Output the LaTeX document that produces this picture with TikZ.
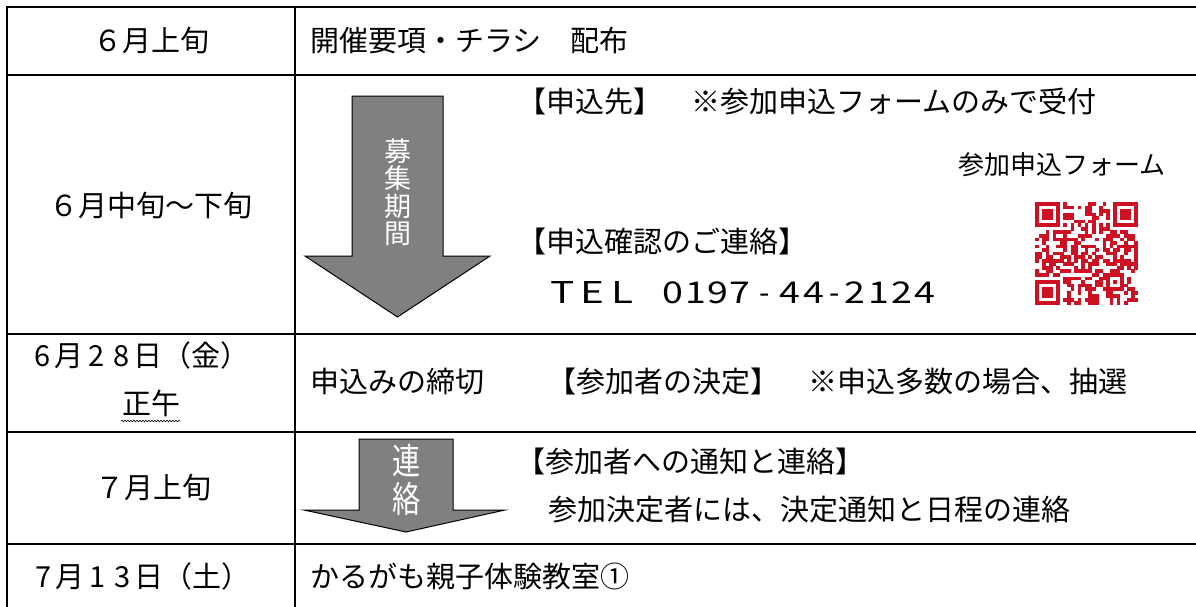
\documentclass[tikz,border=0pt]{standalone}
\usepackage{fontspec}
\setmainfont{Noto Sans CJK JP}
\usetikzlibrary{decorations.pathmorphing}
\definecolor{qrred}{RGB}{205,17,35}
\definecolor{arrowgray}{RGB}{128,128,128}
\newcommand{\hdg}[1]{\makebox[25pt]{#1}}
\newcommand{\tdg}[2][22.3pt]{\makebox[#1]{\scalebox{1.25}[1]{#2}}}
\newcommand{\tdash}[1]{\makebox[#1]{-}}
\newcommand{\tlt}[1]{\makebox[30pt]{\scalebox{1.35}[1]{#1}}}
\begin{document}
\begin{tikzpicture}[x=1pt,y=-1pt,
  tbl/.style={line width=2.2pt},
  txt/.style={inner sep=0pt, font=\fontsize{29}{34}\selectfont, text height=25pt, text depth=4pt},
  lft/.style={txt, anchor=west},
  blockarrow/.style={fill=arrowgray, draw=black, line width=1pt, line join=miter},
  arrowtxt/.style={inner sep=0pt, text=white}]
\useasboundingbox (0,0) rectangle (1196,606);
\fill[white] (0,0) rectangle (1196,606);

% table rules
\foreach \yy in {7,75,334,432,544}{
  \draw[tbl] (6,\yy) -- (1197,\yy);
}
\draw[tbl] (7,6) -- (7,607);
\draw[tbl] (295,6) -- (295,607);

% first column
\node[txt] (d1) at (151,41) {６月上旬};
\node[txt] (d2) at (151,206) {６月中旬～下旬};
\node[txt] (d3) at (140,356) {\hdg{6}月\hdg{2}\hdg{8}日（金）};
\node[txt] (d3b) at (151,404) {正午};
\coordinate (ulA) at (121,421);
\coordinate (ulB) at (180,421);
\draw[decorate, decoration={snake, amplitude=0.8pt, segment length=3pt}, line width=0.6pt] (ulA) -- (ulB);
\node[txt] (d4) at (153,488) {７月上旬};
\node[txt] (d5) at (141,577) {\hdg{7}月\hdg{1}\hdg{3}日（土）};

% row 1
\node[lft] (r1a) at (310,41) {開催要項・チラシ　配布};

% row 2
\draw[blockarrow] (352,96) -- (443,96) -- (443,256) -- (490,256) -- (397.5,317) -- (305,256) -- (352,256) -- cycle;
\node[arrowtxt, align=center, font=\fontsize{27}{27.5}\selectfont] (lbl1) at (398,192) {募\\集\\期\\間};
\node[lft] (r2a) at (517,102) {【申込先】　※参加申込フォームのみで受付};
\node[txt, font=\fontsize{26}{30}\selectfont] (r2b) at (1062,164) {参加申込フォーム};
\node[lft] (r2c) at (517,242) {【申込確認のご連絡】};
\node[lft, font=\fontsize{30}{34}\selectfont] (r2d) at (547,293) {\tlt{T}\tlt{E}\tlt{L}\hspace{25pt}\tdg{0}\tdg{1}\tdg{9}\tdg{7}\tdash{26pt}\tdg[24pt]{4}\tdg[24pt]{4}\tdash{18.2pt}\tdg[23.3pt]{2}\tdg[23.3pt]{1}\tdg[23.3pt]{2}\tdg[23.3pt]{4}};

% QR code
\pgfmathsetseed{11}
\foreach \i in {0,...,28}{
  \foreach \j in {0,...,28}{
    \pgfmathtruncatemacro\qs{((\i<8)&&(\j<8))||((\i>20)&&(\j<8))||((\i<8)&&(\j>20))||((\i>19)&&(\i<25)&&(\j>19)&&(\j<25))}
    \ifnum\qs=0
      \pgfmathtruncatemacro\qt{(\i==6)||(\j==6)}
      \ifnum\qt=1
        \pgfmathtruncatemacro\qv{mod(\i+\j,2)==0}
      \else
        \pgfmathtruncatemacro\qv{rnd<0.5}
      \fi
      \ifnum\qv=1
        \fill[qrred] ({1035+\i*3.552},{202+\j*3.552}) rectangle +(3.7,3.7);
      \fi
    \fi
  }
}
\foreach \fx/\fy in {0/0,22/0,0/22}{
  \fill[qrred] ({1035+\fx*3.552},{202+\fy*3.552}) rectangle +(24.86,24.86);
  \fill[white] ({1035+(\fx+1)*3.552},{202+(\fy+1)*3.552}) rectangle +(17.76,17.76);
  \fill[qrred] ({1035+(\fx+2)*3.552},{202+(\fy+2)*3.552}) rectangle +(10.66,10.66);
}
\fill[qrred] ({1035+20*3.552},{202+20*3.552}) rectangle +(17.76,17.76);
\fill[white] ({1035+21*3.552},{202+21*3.552}) rectangle +(10.66,10.66);
\fill[qrred] ({1035+22*3.552},{202+22*3.552}) rectangle +(3.552,3.552);

% row 3
\node[lft] (r3a) at (310,382) {申込みの締切};
\node[lft] (r3b) at (547,382) {【参加者の決定】　※申込多数の場合、抽選};

% row 4
\draw[blockarrow] (359,439) -- (453,439) -- (453,510) -- (505,510) -- (406,532) -- (304,510) -- (359,510) -- cycle;
\node[arrowtxt, font=\fontsize{36}{40}\selectfont] (lbl2a) at (407,461) {\scalebox{0.78}[1]{連}};
\node[arrowtxt, font=\fontsize{36}{40}\selectfont] (lbl2b) at (407,499) {\scalebox{0.78}[1]{絡}};
\node[lft] (r4a) at (516,462) {【参加者への通知と連絡】};
\node[lft] (r4b) at (548,510) {参加決定者には、決定通知と日程の連絡};

% row 5
\node[lft] (r5a) at (310,577) {かるがも親子体験教室①};
\end{tikzpicture}
\end{document}
